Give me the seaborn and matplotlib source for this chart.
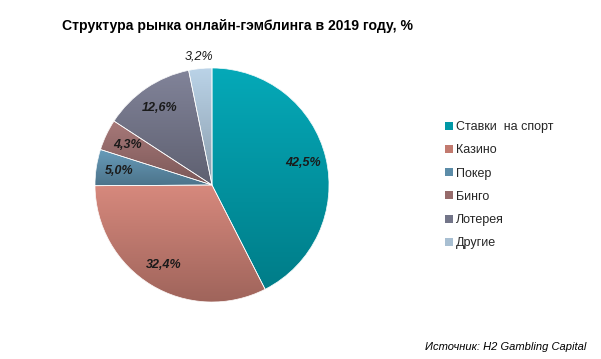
import numpy as np
import matplotlib
matplotlib.use("Agg")
import matplotlib.pyplot as plt
import matplotlib.colors as mcolors
import seaborn as sns

categories = ["Ставки  на спорт", "Казино", "Покер", "Бинго", "Лотерея", "Другие"]
values = [42.5, 32.4, 5.0, 4.3, 12.6, 3.2]
base_colors = ["#0098A6", "#C27A6F", "#5C8CA8", "#966B6B", "#737589", "#A8BFD2"]

sns.set_theme(style="white")
plt.rcParams['font.family'] = ['Liberation Sans', 'DejaVu Sans']

palette = sns.color_palette(base_colors)

fig = plt.figure(figsize=(6.01, 3.59), dpi=100)
fig.patch.set_facecolor("white")
cx, cy, r = 212 / 601, 1 - 185 / 359, 117
w, h = 2 * r / 601, 2 * r / 359
ax = fig.add_axes([cx - w / 2, cy - h / 2, w, h])

wedges, texts, autotexts = ax.pie(
    values, colors=palette, startangle=90, counterclock=False,
    autopct=lambda p: f"{p:.1f}".replace(".", ",") + "%",
    pctdistance=0.8, radius=1.0,
    wedgeprops=dict(linewidth=0.5, edgecolor="white"),
    textprops=dict(fontsize=9, fontweight="bold", fontstyle="italic", color="#1a1a1a"),
)
ax.set_aspect("equal")
ax.axis("off")

# gradient fill per wedge
for wdg, col in zip(wedges, palette):
    rgb = np.array(mcolors.to_rgb(col))
    top = np.clip(rgb * 1.08 + 0.02, 0, 1)
    bot = np.clip(rgb * 0.82, 0, 1)
    th1, th2 = np.deg2rad(wdg.theta1), np.deg2rad(wdg.theta2)
    ths = np.linspace(th1, th2, 100)
    ys = np.concatenate([[0], np.sin(ths)])
    xs = np.concatenate([[0], np.cos(ths)])
    y0, y1 = ys.min(), ys.max()
    x0, x1 = xs.min(), xs.max()
    t = np.linspace(0, 1, 200)[:, None]
    img = (bot[None, :] * (1 - t) + top[None, :] * t)[:, None, :]
    im = ax.imshow(img, extent=[x0, x1, y0, y1], origin="lower", aspect="auto", zorder=1)
    im.set_clip_path(wdg)
    wdg.set_zorder(0)

for wdg in wedges:
    edge = plt.matplotlib.patches.Wedge((0, 0), 1.0, wdg.theta1, wdg.theta2,
                                        facecolor="none", edgecolor="white", linewidth=0.5, zorder=2)
    ax.add_patch(edge)

for t in autotexts:
    t.set_zorder(5)

# "Другие" label outside
wl = wedges[-1]
ang = np.deg2rad((wl.theta1 + wl.theta2) / 2)
autotexts[-1].set_position((1.1 * np.cos(ang), 1.1 * np.sin(ang)))
autotexts[-1].set_fontweight("normal")

ax.set_xlim(-1.0, 1.0)
ax.set_ylim(-1.0, 1.0)

fig.text(238 / 601, 1 - 26 / 359, "Структура рынка онлайн-гэмблинга в 2019 году, %",
         ha="center", va="center", fontsize=10.1, fontweight="bold", color="black")

handles = [plt.matplotlib.patches.Patch(facecolor=c, edgecolor="none") for c in palette]
leg = fig.legend(handles, categories, loc="upper left", bbox_to_anchor=(440 / 601, 1 - 116 / 359),
                 frameon=False, fontsize=9, handlelength=0.6, handleheight=0.6,
                 handletextpad=0.3, labelspacing=0.9, borderaxespad=0)

fig.text(586 / 601, 1 - 347 / 359, "Источник: H2 Gambling Capital", ha="right", va="center",
         fontsize=8, fontstyle="italic", color="black")

fig.savefig("out.png", dpi=100, facecolor="white")
